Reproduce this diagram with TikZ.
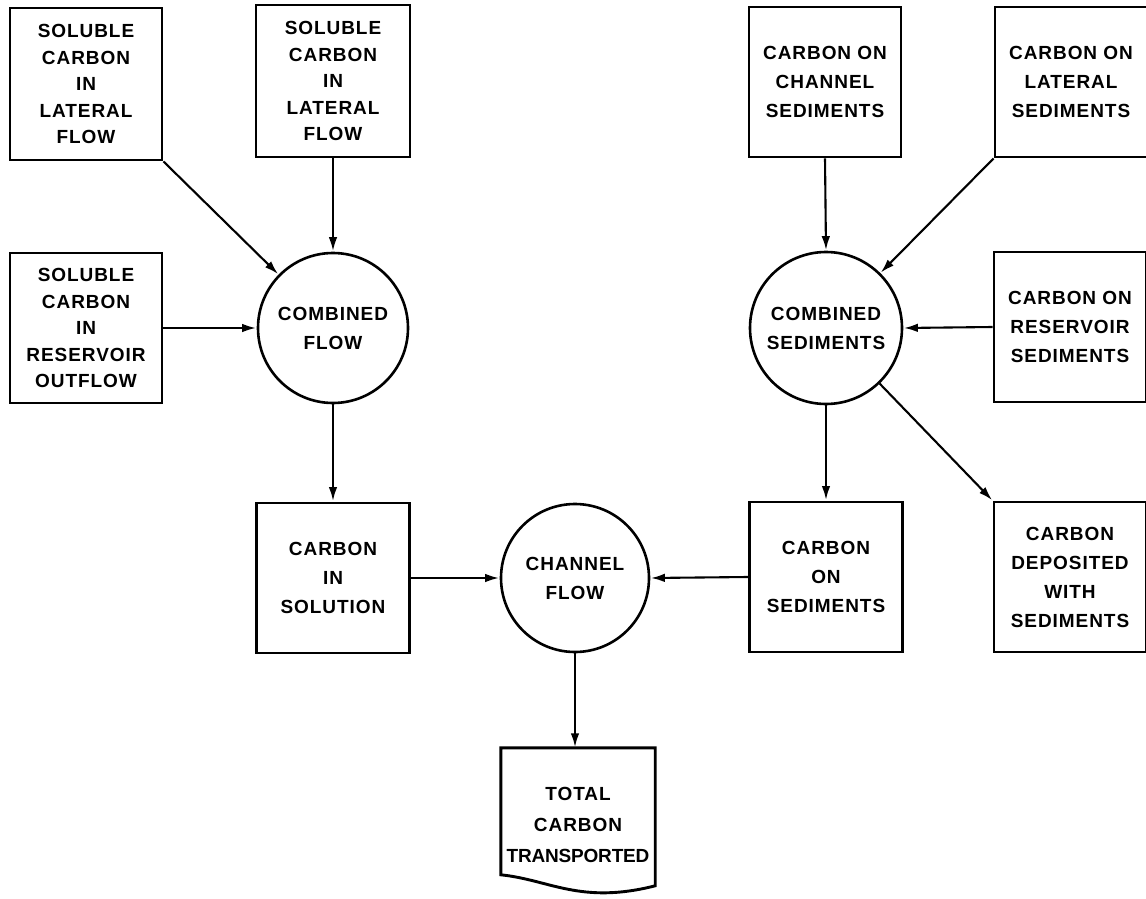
\documentclass[tikz,border=0pt]{standalone}
\usepackage{fontspec}
\newfontfamily\lbl{Liberation Sans}[LetterSpace=5]
\usetikzlibrary{arrows.meta}
\begin{document}
\begin{tikzpicture}[x=1pt,y=-1pt,
  txt/.style={font=\lbl\bfseries\fontsize{19}{29}\selectfont, align=center, inner sep=0pt},
  tight/.style={font=\lbl\bfseries\fontsize{19}{26.5}\selectfont},
  box/.style={txt, draw, line width=2.9pt, rectangle, minimum width=152pt, minimum height=150pt},
  pool/.style={txt, draw, line width=2.6pt, circle, minimum size=150pt},
  flow/.style={line width=2.1pt, -{Latex[length=14pt,width=8.5pt]}, shorten >=0.5pt}
]
\useasboundingbox (0,0) rectangle (1146,899);

% dissolved carbon sources
\node[box, tight, minimum height=152pt] (b1) at (86,84) {SOLUBLE\\CARBON\\IN\\LATERAL\\FLOW};
\node[box, tight, minimum width=154pt, minimum height=152pt] (b2) at (333,81) {SOLUBLE\\CARBON\\IN\\LATERAL\\FLOW};
\node[box, tight] (b3) at (86,328) {SOLUBLE\\CARBON\\IN\\RESERVOIR\\OUTFLOW};

% sediment carbon sources
\node[box] (ccs) at (825,82) {CARBON ON\\CHANNEL\\SEDIMENTS};
\node[box] (cls) at (1071,82) {CARBON ON\\LATERAL\\SEDIMENTS};
\node[box] (crs) at (1070,327) {CARBON ON\\RESERVOIR\\SEDIMENTS};

% mixing pools
\node[pool] (cf) at (333,328) {COMBINED\\FLOW};
\node[pool, minimum size=152pt] (cms) at (826,328) {COMBINED\\SEDIMENTS};
\node[pool, minimum size=148pt] (ch) at (575,578) {CHANNEL\\FLOW};

% carbon phases
\node[box, minimum width=153pt] (cs) at (333,578) {CARBON\\IN\\SOLUTION};
\node[box, minimum width=153pt] (co) at (826,577) {CARBON\\ON\\SEDIMENTS};
\node[box] (cds) at (1070,577) {CARBON\\DEPOSITED\\WITH\\SEDIMENTS};

% output document
\node[txt, minimum width=154pt, minimum height=154pt, font=\lbl\bfseries\fontsize{19}{31}\selectfont] (tct) at (578,825)
  {TOTAL\\CARBON\\{\addfontfeature{LetterSpace=-1}TRANSPORTED}};
\draw[line width=2.9pt, line join=miter] (tct.north west) -- (tct.north east) -- ++(0,138)
  .. controls +(-75,19) and +(49,5) .. ([yshift=-127pt]tct.north west) -- cycle;

% connectors
\draw[flow] (b1.south east) -- (cf);
\draw[flow] (b2.south) -- (cf.north);
\draw[flow] (b3.east) -- (cf.west);
\draw[flow] (cf.south) -- (cs.north);
\draw[flow] (cs.east) -- (ch.west);
\draw[flow] (co.west) -- (ch.east);
\draw[flow] (ch.south) -- (ch.south |- tct.north);
\draw[flow] (ccs.south) -- (cms.north);
\draw[flow] (cls.south west) -- (cms);
\draw[flow] (crs.west) -- (cms.east);
\draw[flow] (cms.south) -- (co.north);
\draw[flow] (cms) -- (cds.north west);
\end{tikzpicture}
\end{document}
